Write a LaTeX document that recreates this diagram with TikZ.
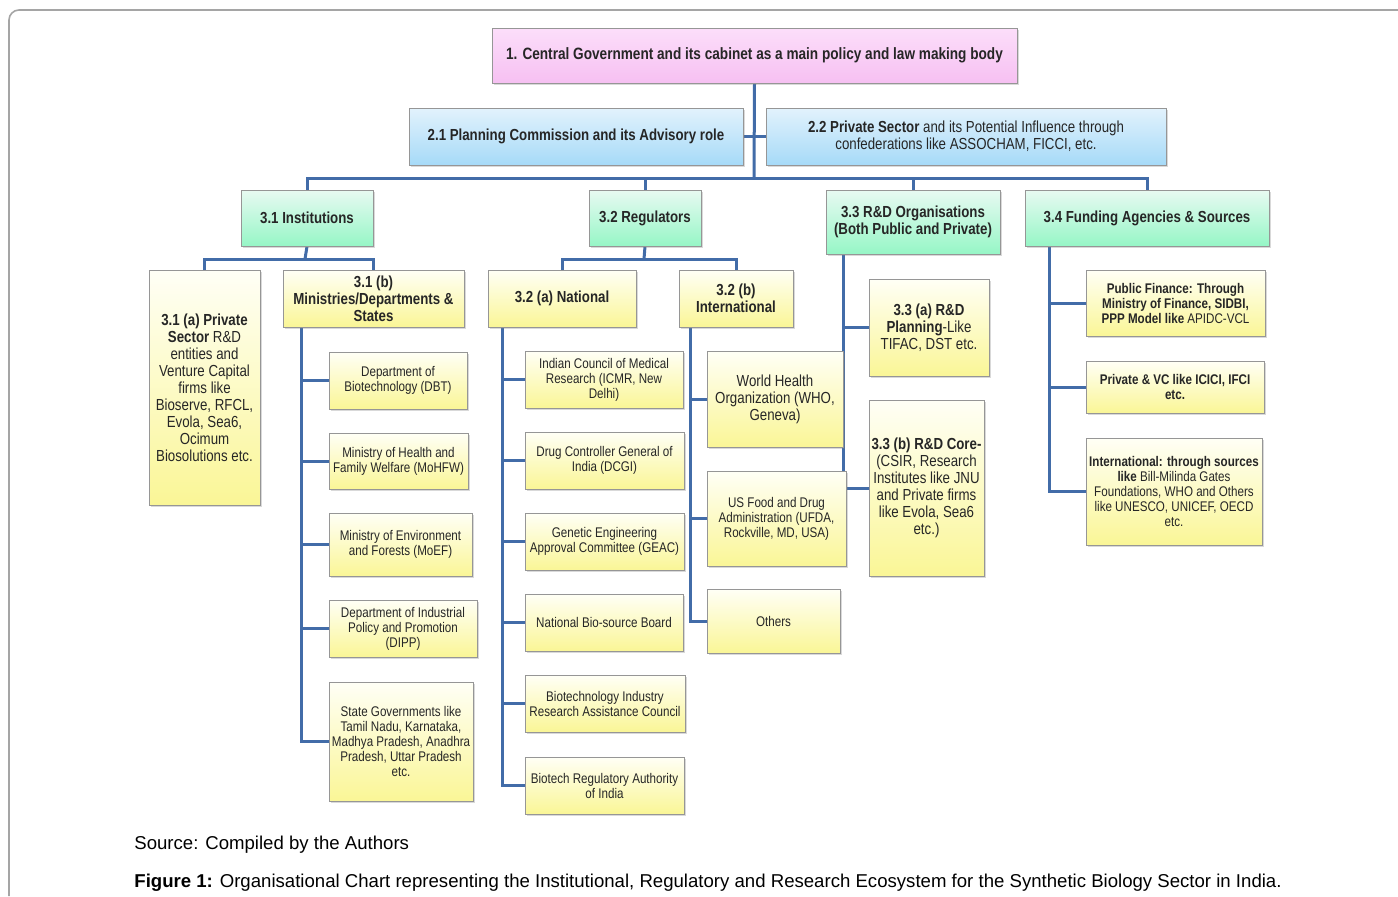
\documentclass[tikz,border=0pt]{standalone}
\usepackage{fontspec}
\setmainfont{Liberation Sans}
\newfontfamily\narrowfont[FakeStretch=0.83]{Liberation Sans}
\usetikzlibrary{shadows, backgrounds}
\usepackage{xcolor}
\definecolor{linkblue}{RGB}{66,108,168}
\definecolor{boxgray}{RGB}{150,150,150}
\definecolor{framegray}{RGB}{165,165,165}
\definecolor{ytop}{RGB}{255,255,246}
\definecolor{ybot}{RGB}{250,246,150}
\definecolor{gtop}{RGB}{232,250,242}
\definecolor{gbot}{RGB}{150,246,198}
\definecolor{btop}{RGB}{226,242,252}
\definecolor{bbot}{RGB}{166,218,248}
\definecolor{ptop}{RGB}{252,222,250}
\definecolor{pbot}{RGB}{246,192,242}

\begin{document}
\begin{tikzpicture}[x=0.5pt, y=-0.5pt]
				\tikzstyle{box} = [draw=boxgray, line width=0.4pt, align=center, inner sep=1pt, text=black!85, font=\narrowfont\fontsize{7}{7.5}\selectfont, drop shadow={shadow xshift=1.2pt, shadow yshift=-1.2pt, opacity=0.3}]
				\tikzstyle{ybox} = [box, top color=ytop, bottom color=ybot]
				\tikzstyle{gbox} = [box, top color=gtop, bottom color=gbot, font=\narrowfont\bfseries\fontsize{8}{8.5}\selectfont]
				\tikzstyle{bbox} = [box, top color=btop, bottom color=bbot]
				\tikzstyle{pbox} = [box, top color=ptop, bottom color=pbot, font=\narrowfont\bfseries\fontsize{8.2}{8.5}\selectfont]
				\tikzstyle{big} = [font=\narrowfont\fontsize{8}{8.5}\selectfont]
				\tikzstyle{head} = [font=\narrowfont\bfseries\fontsize{8}{8.5}\selectfont]
				\tikzstyle{link} = [draw=linkblue, line width=1.5pt]
				\tikzstyle{hv} = [to path={-| (\tikztotarget)}]
				\tikzstyle{vh} = [to path={|- (\tikztotarget)}]
				\tikzstyle{caption} = [anchor=west, inner sep=0pt, font=\fontsize{9.3}{11}\selectfont]
				
				\useasboundingbox (0,0) rectangle (1398,896);
				\draw[framegray, line width=0.8pt, rounded corners=5pt] (9,896) -- (9,10) -- (1398,10);
				
				% level 1 and 2
				\node[pbox, minimum width=262.5pt, minimum height=27.5pt]	at (754.5,55.5)	(c1)	{1. Central Government  and its cabinet as a main policy and law making body};
				\node[bbox, head, minimum width=167pt, minimum height=28.5pt]	at (576,136.5)	(p21)	{2.1 Planning Commission and its Advisory role};
				\node[bbox, big, minimum width=200pt, minimum height=28.5pt]	at (966,136.5)	(p22)	{\textbf{2.2 Private Sector} and its Potential Influence through\\confederations like ASSOCHAM, FICCI, etc.};
				
				% level 3
				\node[gbox, minimum width=66pt, minimum height=28pt]	at (307,218)	(i31)	{3.1 Institutions};
				\node[gbox, minimum width=56pt, minimum height=28pt]	at (645,218)	(r32)	{3.2 Regulators};
				\node[gbox, minimum width=87pt, minimum height=32pt]	at (913,222)	(d33)	{3.3 R\&D Organisations\\(Both Public and Private)};
				\node[gbox, minimum width=122pt, minimum height=28pt]	at (1147,218)	(f34)	{3.4 Funding Agencies \& Sources};
				
				% 3.1 institutions
				\node[ybox, big, minimum width=55.5pt, minimum height=117.5pt]	at (204.5,387.5)	(i31a)	{\textbf{3.1 (a) Private}\\\textbf{Sector} R\&D\\entities and\\Venture Capital\\firms like\\Bioserve, RFCL,\\Evola, Sea6,\\Ocimum\\Biosolutions etc.};
				\node[ybox, head, minimum width=90.5pt, minimum height=28.5pt]	at (373.5,298.5)	(i31b)	{3.1 (b)\\Ministries/Departments \&\\States};
				\node[ybox, minimum width=69pt, minimum height=28.5pt]	at (398,380.5)	(dbt)	{Department of\\Biotechnology (DBT)};
				\node[ybox, minimum width=69.5pt, minimum height=28pt]	at (398.5,461)	(mohfw)	{Ministry of Health and\\Family Welfare (MoHFW)};
				\node[ybox, minimum width=71.5pt, minimum height=31.5pt]	at (400.5,544.5)	(moef)	{Ministry of Environment\\and Forests (MoEF)};
				\node[ybox, minimum width=74pt, minimum height=28.5pt]	at (403,628.5)	(dipp)	{Department of Industrial\\Policy and Promotion\\(DIPP)};
				\node[ybox, minimum width=72pt, minimum height=59.5pt]	at (401,741.5)	(state)	{State  Governments like\\Tamil Nadu, Karnataka,\\Madhya Pradesh, Anadhra\\Pradesh, Uttar Pradesh\\etc.};
				
				% 3.2 regulators
				\node[ybox, head, minimum width=74pt, minimum height=28.5pt]	at (562,298.5)	(r32a)	{3.2 (a) National};
				\node[ybox, head, minimum width=57pt, minimum height=28.5pt]	at (736,298.5)	(r32b)	{3.2 (b)\\International};
				\node[ybox, minimum width=79pt, minimum height=28.5pt]	at (604,379.5)	(icmr)	{Indian Council of Medical\\Research (ICMR, New\\Delhi)};
				\node[ybox, minimum width=79.5pt, minimum height=28.5pt]	at (604.5,460.5)	(dcgi)	{Drug Controller General of\\India (DCGI)};
				\node[ybox, minimum width=79.5pt, minimum height=28.5pt]	at (604.5,541.5)	(geac)	{Genetic Engineering\\Approval Committee (GEAC)};
				\node[ybox, minimum width=79pt, minimum height=28.5pt]	at (604,622.5)	(nbb)	{National Bio-source Board};
				\node[ybox, minimum width=80pt, minimum height=28.5pt]	at (605,703.5)	(birac)	{Biotechnology Industry\\Research Assistance Council};
				\node[ybox, minimum width=79.5pt, minimum height=28.5pt]	at (604.5,785.5)	(brai)	{Biotech Regulatory Authority\\of India};
				\node[ybox, big, minimum width=68pt, minimum height=48pt]	at (775,399)	(who)	{World Health\\Organization (WHO,\\Geneva)};
				\node[ybox, minimum width=69.5pt, minimum height=47.5pt]	at (776.5,518.5)	(fda)	{US Food and Drug\\Administration (UFDA,\\Rockville, MD, USA)};
				\node[ybox, minimum width=66.5pt, minimum height=32pt]	at (773.5,621)	(others)	{Others};
				
				% 3.3 R&D organisations
				\node[ybox, big, minimum width=60pt, minimum height=48.5pt]	at (929,327.5)	(d33a)	{\textbf{3.3 (a) R\&D}\\\textbf{Planning}-Like\\TIFAC, DST etc.};
				\node[ybox, big, minimum width=57.5pt, minimum height=88pt]	at (926.5,488)	(d33b)	{\textbf{3.3 (b) R\&D Core-}\\(CSIR, Research\\Institutes  like JNU\\and Private firms\\like Evola, Sea6\\etc.)};
				
				% 3.4 funding
				\node[ybox, minimum width=89.5pt, minimum height=33pt]	at (1175.5,303)	(pubfin)	{\textbf{Public Finance: Through}\\\textbf{Ministry of Finance, SIDBI,}\\\textbf{PPP Model like} APIDC-VCL};
				\node[ybox, minimum width=89pt, minimum height=26pt]	at (1175,387)	(privvc)	{\textbf{Private \& VC like ICICI, IFCI}\\\textbf{etc.}};
				\node[ybox, minimum width=88pt, minimum height=53.5pt]	at (1174,491.5)	(intl)	{\textbf{International: through sources}\\\textbf{like} Bill-Milinda Gates\\Foundations, WHO and Others\\like UNESCO, UNICEF, OECD\\etc.};
				
				% captions
				\node[caption]	at (134,845)	(src)	{Source: Compiled by the Authors};
				\node[caption]	at (134,883)	(fig)	{\textbf{Figure 1:} Organisational Chart representing the Institutional, Regulatory and Research Ecosystem for the Synthetic Biology Sector in India.};
				
				% junctions
				\coordinate	(bus)	at (754,178);
				\coordinate	(j31)	at (305,259);
				\coordinate	(j32)	at (644,259);
				\coordinate	(s31b)	at (301,327);
				\coordinate	(s32a)	at (502,327);
				\coordinate	(s32b)	at (690,327);
				\coordinate	(s33)	at (843,254);
				\coordinate	(s34)	at (1049,246);
				
				\begin{pgfonlayer}{background}
				\path[link]
				(c1.south)	edge	(bus)
				(p21)	edge	(p22)
				(bus)	edge[hv]	(i31.north)
				(bus)	edge[hv]	(r32.north)
				(bus)	edge[hv]	(d33.north)
				(bus)	edge[hv]	(f34.north)
				(i31.south)	edge	(j31)
				(j31)	edge[hv]	(i31a.north)
				(j31)	edge[hv]	(i31b.north)
				(r32.south)	edge	(j32)
				(j32)	edge[hv]	(r32a.north)
				(j32)	edge[hv]	(r32b.north);
				\path[link]
				(s31b)	edge[vh]	(dbt.west)
				(s31b)	edge[vh]	(mohfw.west)
				(s31b)	edge[vh]	(moef.west)
				(s31b)	edge[vh]	(dipp.west)
				(s31b)	edge[vh]	(state.west)
				(s32a)	edge[vh]	(icmr.west)
				(s32a)	edge[vh]	(dcgi.west)
				(s32a)	edge[vh]	(geac.west)
				(s32a)	edge[vh]	(nbb.west)
				(s32a)	edge[vh]	(birac.west)
				(s32a)	edge[vh]	(brai.west)
				(s32b)	edge[vh]	(who.west)
				(s32b)	edge[vh]	(fda.west)
				(s32b)	edge[vh]	(others.west)
				(s33)	edge[vh]	(d33a.west)
				(s33)	edge[vh]	(d33b.west)
				(s34)	edge[vh]	(pubfin.west)
				(s34)	edge[vh]	(privvc.west)
				(s34)	edge[vh]	(intl.west);
				\end{pgfonlayer}
			\end{tikzpicture}
\end{document}
